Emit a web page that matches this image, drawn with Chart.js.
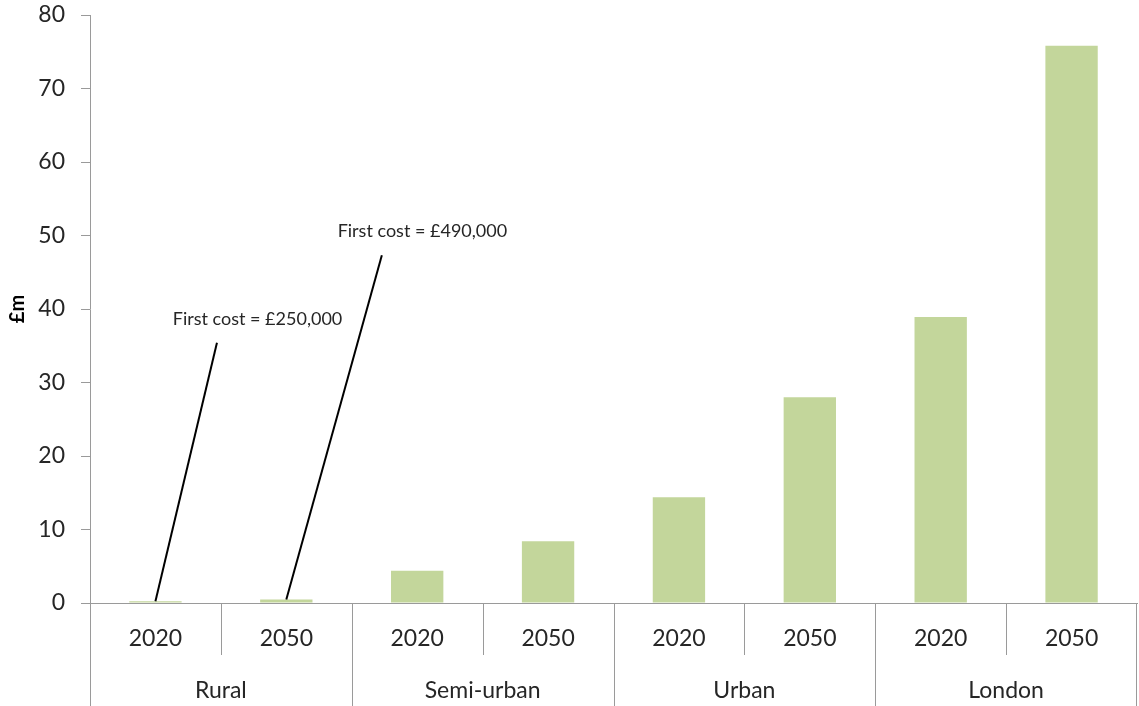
<!DOCTYPE html>
<html lang="en">
  <head>
    <meta charset="UTF-8" />
    <title>Cost by area type, 2020 and 2050</title>
    <script src="https://cdn.jsdelivr.net/npm/chart.js@4.4.1/dist/chart.umd.min.js"></script>
    <style>
      html, body {
        margin: 0;
        padding: 0;
        background: #ffffff;
      }
      .chart-container {
        width: 1139px;
        height: 706px;
      }
    </style>
  </head>
  <body>
    <div class="chart-container">
      <canvas id="costChart"></canvas>
    </div>

    <script>
      // area groups, and the two years shown inside each group
      const groups = ["Rural", "Semi-urban", "Urban", "London"];
      const years = ["2020", "2050"];

      // cost in £m, in the order Rural 2020, Rural 2050, Semi-urban 2020, ...
      const costs = [0.25, 0.49, 4.4, 8.4, 14.4, 28, 38.9, 75.8];

      // value axis
      const yMax = 80;
      const yStep = 10;

      // callout texts and the bar each one points at
      const noteTexts = ["First cost = £250,000", "First cost = £490,000"];
      const noteBars = [0, 1];

      const labels = groups.flatMap(() => years);
      const axisGrey = "#9a9a9a";
      const textColor = "#262626";
      const fontFamily = "Lato, 'Open Sans', sans-serif";

      // callout layout, in data space: offsets are in category widths
      const noteLayout = [
        { lineDx: 0.47, lineTop: 35.4, textDx: 0.78, textY: 38.6 },
        { lineDx: 0.73, lineTop: 47.3, textDx: 1.04, textY: 50.6 },
      ];

      const xAt = (scale, index, dx) => {
        const w = scale.getPixelForValue(1) - scale.getPixelForValue(0);
        return scale.getPixelForValue(index) + dx * w;
      };

      // separators under the axis and the callout lines
      const categoryLines = {
        id: "categoryLines",
        afterDraw(chart) {
          const { ctx, chartArea, scales } = chart;
          const x = scales.x;
          const bottom = chart.height;
          const half = (x.getPixelForValue(1) - x.getPixelForValue(0)) / 2;
          ctx.save();
          ctx.strokeStyle = axisGrey;
          ctx.lineWidth = 1;
          labels.forEach((_, i) => {
            const px = Math.round(x.getPixelForValue(i) - half) + 0.5;
            const end = i % years.length === 0 ? bottom : x.bottom - 6;
            ctx.beginPath();
            ctx.moveTo(px, chartArea.bottom);
            ctx.lineTo(px, end);
            ctx.stroke();
          });
          const right = Math.round(x.getPixelForValue(labels.length - 1) + half) - 0.5;
          ctx.beginPath();
          ctx.moveTo(right, chartArea.bottom);
          ctx.lineTo(right, bottom);
          ctx.stroke();
          ctx.restore();
        },
        afterDatasetsDraw(chart) {
          const { ctx, scales } = chart;
          const x = scales.x;
          const y = scales.y;
          ctx.save();
          noteBars.forEach((bar, i) => {
            const l = noteLayout[i];
            ctx.strokeStyle = "#000000";
            ctx.lineWidth = 2;
            ctx.beginPath();
            ctx.moveTo(xAt(x, bar, l.lineDx), y.getPixelForValue(l.lineTop));
            ctx.lineTo(xAt(x, bar, 0), y.getPixelForValue(costs[bar]));
            ctx.stroke();

            ctx.fillStyle = textColor;
            ctx.font = "18px " + fontFamily;
            ctx.textAlign = "center";
            ctx.textBaseline = "middle";
            ctx.fillText(noteTexts[i], xAt(x, bar, l.textDx), y.getPixelForValue(l.textY));
          });
          ctx.restore();
        },
      };

      const ctx = document.getElementById("costChart").getContext("2d");

      new Chart(ctx, {
        type: "bar",
        data: {
          labels: labels,
          datasets: [
            {
              label: "£m",
              data: costs,
              backgroundColor: "#c3d69b",
              borderWidth: 0,
              categoryPercentage: 1,
              barPercentage: 0.4,
            },
          ],
        },
        options: {
          responsive: true,
          maintainAspectRatio: false,
          animation: false,
          events: [],
          layout: { padding: { top: 15, right: 2, left: 0, bottom: 0 } },
          plugins: {
            legend: { display: false },
            tooltip: { enabled: false },
          },
          scales: {
            x: {
              position: "bottom",
              grid: { display: false },
              border: { display: true, color: axisGrey, width: 1 },
              ticks: {
                color: textColor,
                font: { family: fontFamily, size: 23 },
                padding: 14,
                maxRotation: 0,
                autoSkip: false,
              },
              afterFit(scale) {
                scale.height = 58;
              },
            },
            x2: {
              type: "category",
              labels: groups,
              position: "bottom",
              offset: true,
              grid: { display: false },
              border: { display: false },
              ticks: {
                color: textColor,
                font: { family: fontFamily, size: 23 },
                padding: 8,
                maxRotation: 0,
                autoSkip: false,
              },
              afterFit(scale) {
                scale.height = 45;
              },
            },
            y: {
              min: 0,
              max: yMax,
              border: { display: true, color: axisGrey, width: 1 },
              grid: {
                drawOnChartArea: false,
                color: axisGrey,
                tickLength: 9,
              },
              ticks: {
                stepSize: yStep,
                color: textColor,
                font: { family: fontFamily, size: 23 },
                padding: 16,
              },
              title: {
                display: true,
                text: "£m",
                color: "#000000",
                font: { family: fontFamily, size: 20, weight: "bold" },
                padding: { top: 6, bottom: 4 },
              },
              afterFit(scale) {
                scale.width = 90;
                // the top label may overhang the layout padding
                scale.paddingTop = 0;
                scale.paddingBottom = 0;
              },
            },
          },
        },
        plugins: [categoryLines],
      });
    </script>
  </body>
</html>
